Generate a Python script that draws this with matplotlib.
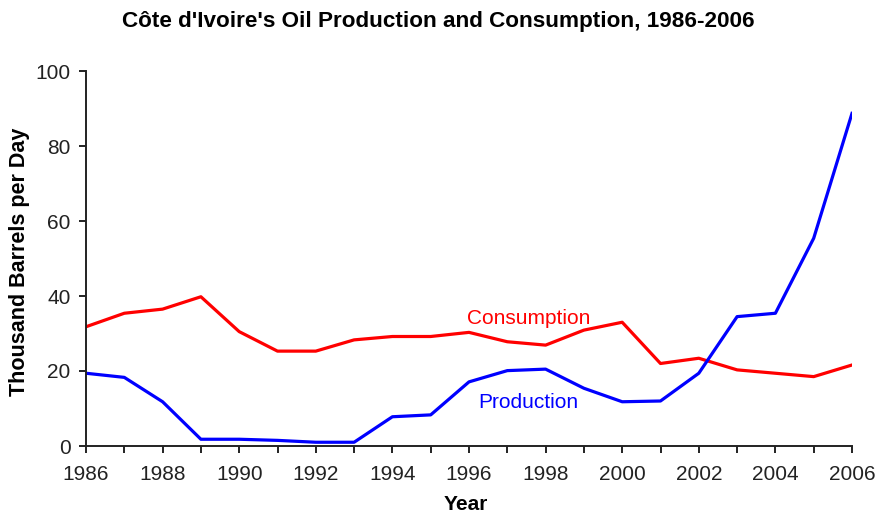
import matplotlib
matplotlib.use("Agg")
import matplotlib.pyplot as plt

years = list(range(1986, 2007))
consumption = [31.8, 35.4, 36.5, 39.8, 30.5, 25.3, 25.3, 28.3, 29.2, 29.2, 30.3,
               27.8, 26.9, 30.9, 33.0, 22.0, 23.4, 20.3, 19.4, 18.5, 21.6]
production = [19.4, 18.3, 11.8, 1.8, 1.8, 1.5, 1.0, 1.0, 7.8, 8.3, 17.1,
              20.1, 20.5, 15.4, 11.8, 12.0, 19.4, 34.5, 35.4, 55.4, 88.7]
x_tick_labels = [str(y) if (y - 1986) % 2 == 0 else "" for y in years]
y_ticks = [0, 20, 40, 60, 80, 100]

plt.rcParams['font.family'] = ['Liberation Sans', 'DejaVu Sans']

fig = plt.figure(figsize=(8.75, 5.14), dpi=100)
ax = fig.add_axes([86/875, 1 - 446/514, (852-86)/875, (446-71)/514])

ax.plot(years, consumption, color='#ff0000', lw=2.3)
ax.plot(years, production, color='#0000ff', lw=2.3)

ax.set_xlim(1986, 2006)
ax.set_ylim(0, 100)
ax.set_xticks(years)
ax.set_xticklabels(x_tick_labels, fontsize=15, color='#222222')
ax.set_yticks(y_ticks)
ax.set_yticklabels([str(v) for v in y_ticks], fontsize=15, color='#222222')
for s in ['top', 'right']:
    ax.spines[s].set_visible(False)
for s in ['left', 'bottom']:
    ax.spines[s].set_linewidth(1.4)
    ax.spines[s].set_color('#222222')
ax.tick_params(axis='both', direction='out', length=5, width=1.4, color='#222222')
ax.tick_params(axis='x', pad=9)
ax.tick_params(axis='y', pad=6)

fig.text(466/875, 1 - 505/514, 'Year', fontsize=15, fontweight='bold',
         ha='center', va='center')
fig.text(20/875, 1 - 262/514, 'Thousand Barrels per Day', fontsize=15.5, fontweight='bold',
         ha='center', va='center', rotation=90)

ax.text(1997.55, 34.1, 'Consumption', color='#ff0000', fontsize=15, ha='center', va='center')
ax.text(1997.55, 11.7, 'Production', color='#0000ff', fontsize=15, ha='center', va='center')

fig.text(438/875, 1 - 21/514, "Côte d'Ivoire's Oil Production and Consumption, 1986-2006",
         fontsize=16.2, fontweight='bold', ha='center', va='center')

fig.savefig('out.png', dpi=100)
